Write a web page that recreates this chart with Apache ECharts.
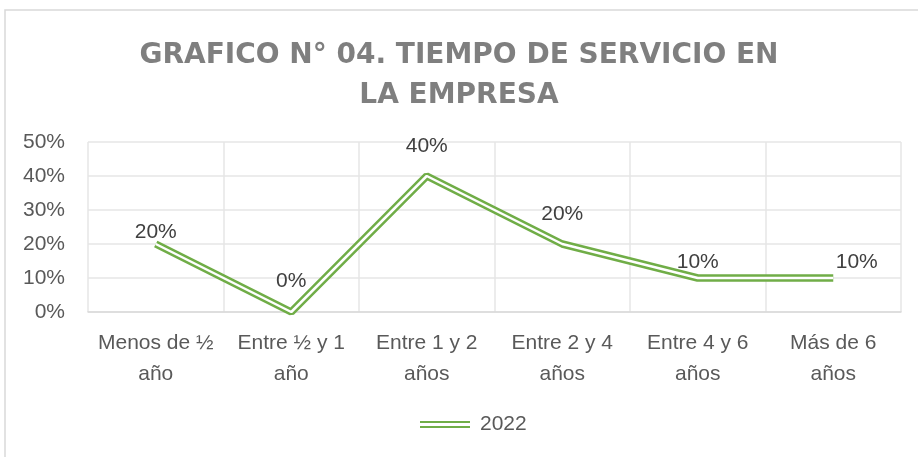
<!DOCTYPE html>
<html>
<head>
<meta charset="utf-8">
<script src="https://cdn.jsdelivr.net/npm/echarts@6/dist/echarts.min.js"></script>
<style>
  html, body { margin: 0; padding: 0; background: #fff; }
  #grafico { width: 918px; height: 457px; }
</style>
</head>
<body>
<div id="grafico"></div>
<script>
// datos del gráfico
var categorias = ['Menos de ½\naño', 'Entre ½ y 1\naño', 'Entre 1 y 2\naños', 'Entre 2 y 4\naños', 'Entre 4 y 6\naños', 'Más de 6\naños'];
var valores2022 = [20, 0, 40, 20, 10, 10];
var ticksY = [0, 10, 20, 30, 40, 50];

var verde = '#70ad47';
var fuente = 'Liberation Sans';

// posición de cada etiqueta como la deja Excel
var posEtiquetas = [
    { position: 'top', distance: 1 },
    { position: 'top', distance: 20 },
    { position: 'top', distance: 19 },
    { position: 'top', distance: 19 },
    { position: 'top', distance: 5 },
    { position: 'right', distance: 2, offset: [0, -16] }
];

var myChart = echarts.init(document.getElementById('grafico'));

var option = {
    animation: false,
    backgroundColor: '#fff',
    graphic: [{
        type: 'rect',
        shape: { x: 5, y: 10, width: 940, height: 480 },
        style: { fill: 'none', stroke: '#d9d9d9', lineWidth: 1.5 },
        silent: true
    }],
    title: {
        text: 'GRAFICO N° 04. TIEMPO DE SERVICIO EN\nLA EMPRESA',
        left: 'center',
        top: 31,
        textStyle: {
            fontFamily: 'DejaVu Sans',
            fontWeight: 'bold',
            fontSize: 28,
            lineHeight: 40,
            color: '#7f7f7f'
        }
    },
    legend: {
        bottom: 17,
        left: 415,
        itemWidth: 50,
        itemHeight: 7,
        textStyle: { fontFamily: fuente, fontSize: 21, color: '#595959', padding: [0, 0, 0, 5] },
        data: [{
            name: '2022',
            icon: 'path://M0,0H50V2H0Z M0,5H50V7H0Z',
            itemStyle: { color: verde }
        }]
    },
    grid: { left: 88, right: 17, top: 142, bottom: 145 },
    xAxis: {
        type: 'category',
        data: categorias,
        boundaryGap: true,
        axisLine: { show: true, lineStyle: { color: '#d9d9d9', width: 1.5 } },
        axisTick: { show: false },
        splitLine: { show: true, lineStyle: { color: '#e6e6e6', width: 1.5 } },
        axisLabel: {
            interval: 0,
            margin: 16,
            fontFamily: fuente,
            fontSize: 21,
            lineHeight: 31,
            color: '#595959'
        }
    },
    yAxis: {
        type: 'value',
        min: ticksY[0],
        max: ticksY[ticksY.length - 1],
        interval: 10,
        axisLine: { show: false },
        axisTick: { show: false },
        splitLine: { lineStyle: { color: '#e6e6e6', width: 1.5 } },
        axisLabel: {
            margin: 23,
            fontFamily: fuente,
            fontSize: 21,
            color: '#595959',
            formatter: '{value}%'
        }
    },
    series: [{
        name: '2022',
        type: 'line',
        data: valores2022.map(function (v, i) {
            return { value: v, label: posEtiquetas[i] };
        }),
        symbol: 'circle',
        symbolSize: 1,
        showSymbol: true,
        lineStyle: { color: verde, width: 7.5 },
        itemStyle: { color: 'rgba(0,0,0,0)' },
        label: {
            show: true,
            fontFamily: fuente,
            fontSize: 21,
            color: '#404040',
            formatter: '{c}%'
        },
        z: 2
    }, {
        name: 'interior',
        type: 'line',
        data: valores2022,
        symbol: 'none',
        lineStyle: { color: '#ffffff', width: 2.5 },
        silent: true,
        z: 3
    }]
};

myChart.setOption(option);
</script>
</body>
</html>
